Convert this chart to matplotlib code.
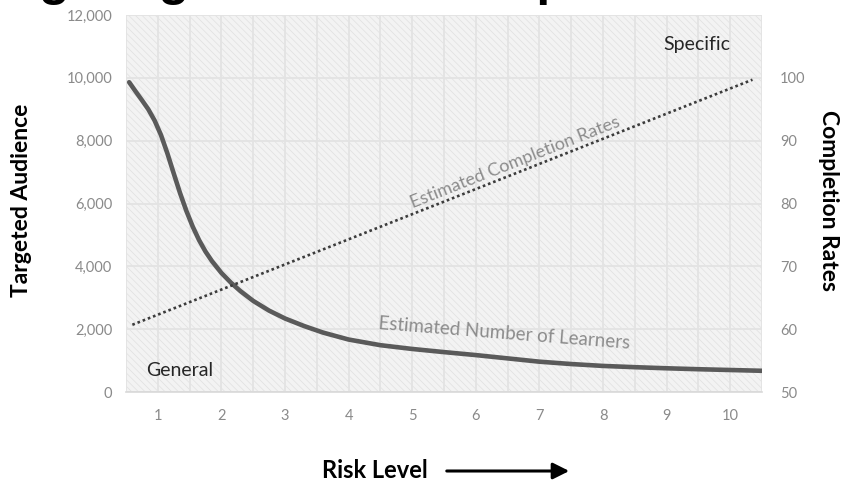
import math
import matplotlib
matplotlib.use("Agg")
import matplotlib.pyplot as plt
from matplotlib.patches import Rectangle, FancyArrowPatch

# ---- data -------------------------------------------------------------
risk_levels = list(range(1, 11))
audience_ticks = [0, 2000, 4000, 6000, 8000, 10000, 12000]
completion_ticks = [50, 60, 70, 80, 90, 100]

learners_x = [0.55, 0.65, 0.75, 0.85, 0.95, 1.05, 1.15, 1.25, 1.35, 1.45,
              1.55, 1.65, 1.75, 1.85, 2.0, 2.15, 2.3, 2.5, 2.75, 3.0, 3.3,
              3.6, 4.0, 4.5, 5.0, 5.5, 6.0, 6.5, 7.0, 7.5, 8.0, 8.5, 9.0,
              9.5, 10.0, 10.5]
learners_y = [9860, 9570, 9290, 9000, 8640, 8180, 7600, 6960, 6330, 5760,
              5260, 4830, 4470, 4170, 3790, 3480, 3210, 2900, 2590, 2340,
              2100, 1890, 1670, 1490, 1370, 1270, 1175, 1070, 965, 890, 830,
              790, 755, 725, 700, 675]

completion_x = [0.6, 10.35]
completion_y = [60.7, 99.7]

# ---- figure -----------------------------------------------------------
W, H = 846, 483
plt.rcParams["hatch.linewidth"] = 0.5
plt.rcParams["hatch.color"] = "#e0e0e0"
fig = plt.figure(figsize=(W / 100, H / 100), dpi=100)
fig.patch.set_facecolor("white")

ax = fig.add_axes([126 / W, 1 - 392 / H, (762 - 126) / W, (392 - 15) / H])
ax.set_facecolor("#f3f3f3")
ax.add_patch(Rectangle((0, 0), 1, 1, transform=ax.transAxes,
                       facecolor="none", edgecolor="#e0e0e0",
                       hatch="\\\\\\\\\\", linewidth=0, zorder=0))

ax.set_xlim(0.5, 10.5)
ax.set_ylim(0, 12000)
ax.set_xticks(risk_levels)
ax.set_xticks([v + 0.5 for v in range(0, 11)], minor=True)
ax.set_yticks(audience_ticks)
ax.set_yticklabels([f"{v:,}" for v in audience_ticks])
ax.grid(True, which="both", axis="x", color="#e3e3e3", linewidth=1.3, zorder=1)
ax.grid(True, which="major", axis="y", color="#e3e3e3", linewidth=1.3, zorder=1)
ax.set_axisbelow(True)

ax.tick_params(axis="x", which="both", length=0, pad=12, labelcolor="#8a8a8a")
ax.tick_params(axis="y", length=0, pad=10, labelcolor="#8a8a8a")
for lab in ax.get_xticklabels() + ax.get_yticklabels():
    lab.set_fontfamily("Lato")
    lab.set_fontsize(10.5)

for side in ("top", "left", "right"):
    ax.spines[side].set_visible(False)
ax.spines["bottom"].set_color("#d9d9d9")
ax.spines["bottom"].set_linewidth(1.2)

ax.plot(learners_x, learners_y, color="#5a5a5a", linewidth=3.3,
        solid_capstyle="round", solid_joinstyle="round", zorder=4)

ax2 = ax.twinx()
ax2.set_ylim(50, 110)
ax2.set_yticks(completion_ticks)
ax2.tick_params(axis="y", length=0, pad=13, labelcolor="#8a8a8a")
for lab in ax2.get_yticklabels():
    lab.set_fontfamily("Lato")
    lab.set_fontsize(10.5)
for side in ax2.spines:
    ax2.spines[side].set_visible(False)

ax2.plot(completion_x, completion_y, color="#3c3c3c", linewidth=1.9,
         linestyle=(0, (1, 1.1)), zorder=5)

# ---- in-plot labels ---------------------------------------------------
fig.canvas.draw()
p0 = ax2.transData.transform((completion_x[0], completion_y[0]))
p1 = ax2.transData.transform((completion_x[1], completion_y[1]))
slope_angle = math.degrees(math.atan2(p1[1] - p0[1], p1[0] - p0[0]))

ax2.text(6.62, 86.6, "Estimated Completion Rates", rotation=slope_angle,
         rotation_mode="anchor", ha="center", va="center",
         family="Lato", fontsize=13, color="#8c8c8c", zorder=6)
ax.text(6.44, 1850, "Estimated Number of Learners", rotation=-4.5,
        rotation_mode="anchor", ha="center", va="center",
        family="Lato", fontsize=13.5, color="#8c8c8c", zorder=6)
ax.text(9.48, 11050, "Specific", ha="center", va="center",
        family="Lato", fontsize=14, color="#262626", zorder=6)
ax.text(1.34, 700, "General", ha="center", va="center",
        family="Lato", fontsize=14, color="#262626", zorder=6)

# ---- axis titles ------------------------------------------------------
fig.text(22 / W, 1 - 200 / H, "Targeted Audience", rotation=90,
         ha="center", va="center", family="Lato", fontweight="bold",
         fontsize=16.5, color="black")
fig.text(828 / W, 1 - 200 / H, "Completion Rates", rotation=270,
         ha="center", va="center", family="Lato", fontweight="bold",
         fontsize=16.5, color="black")
fig.text(375 / W, 1 - 470 / H, "Risk Level", ha="center", va="center",
         family="Lato", fontweight="bold", fontsize=17, color="black")
fig.add_artist(FancyArrowPatch((444 / W, 1 - 471 / H), (572 / W, 1 - 471 / H),
                               transform=fig.transFigure,
                               arrowstyle="-|>,head_length=0.7,head_width=0.35",
                               mutation_scale=14, linewidth=2.2,
                               color="black"))

# heading sits above the canvas; only its lower edge shows
fig.text(695 / W, 1 + 5 / H, "Targeting: General vs. Specific",
         ha="right", va="baseline", family="Liberation Sans",
         fontweight="bold", fontsize=36, color="black")

fig.savefig("out.png", dpi=100)
